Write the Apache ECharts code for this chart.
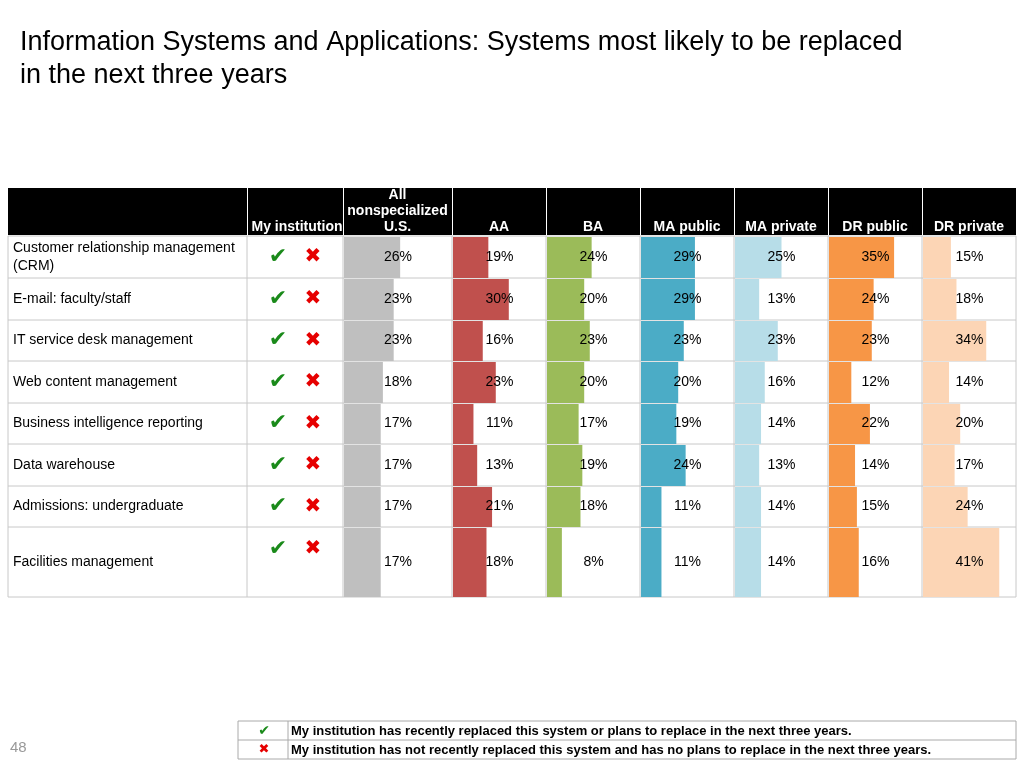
<!DOCTYPE html>
<html><head><meta charset="utf-8">
<script src="https://cdn.jsdelivr.net/npm/echarts@6/dist/echarts.min.js"></script>
<style>html,body{margin:0;padding:0;background:#fff}#c{width:1024px;height:768px}</style>
</head><body><div id="c"></div>
<script>
const rowLabels = ['Customer relationship management\n(CRM)','E-mail: faculty/staff','IT service desk management','Web content management','Business intelligence reporting','Data warehouse','Admissions: undergraduate','Facilities management'];
const groups = ['All\nnonspecialized\nU.S.','AA','BA','MA public','MA private','DR public','DR private'];
const allUS     = [26,23,23,18,17,17,17,17];
const aa        = [19,30,16,23,11,13,21,18];
const ba        = [24,20,23,20,17,19,18,8];
const maPublic  = [29,29,23,20,19,24,11,11];
const maPrivate = [25,13,23,16,14,13,14,14];
const drPublic  = [35,24,23,12,22,14,15,16];
const drPrivate = [15,18,34,14,20,17,24,41];
const seriesValues = [allUS,aa,ba,maPublic,maPrivate,drPublic,drPrivate];

// layout
const colors = ['#bfbfbf','#c0504d','#9bbb59','#4bacc6','#b7dde8','#f79646','#fcd5b5'];
const colEdges = [8,247,343,452,546,640,734,828,922,1016];
const rowEdges = [236,278,320,361,403,444,486,527,597];
const headTop = 188, top0 = rowEdges[0], bot = rowEdges[rowEdges.length-1];
const F = 'Liberation Sans, Arial, sans-serif';

const graphic = [];
graphic.push({type:'text',left:20,top:26,style:{text:'Information Systems and Applications: Systems most likely to be replaced\nin the next three years',font:'27px '+F,fill:'#000',lineHeight:33}});
// header
for (let c=0;c<colEdges.length-1;c++){
  graphic.push({type:'rect',shape:{x:colEdges[c]+(c?1:0),y:headTop,width:colEdges[c+1]-colEdges[c]-(c?1:0),height:top0-headTop-1},style:{fill:'#000'}});
}
graphic.push({type:'text',x:(colEdges[1]+colEdges[2])/2+2,y:234,style:{text:'My institution',font:'bold 14px '+F,fill:'#fff',align:'center',verticalAlign:'bottom'}});
groups.forEach((g,i)=>{
  graphic.push({type:'text',x:(colEdges[i+2]+colEdges[i+3])/2,y:235,style:{text:g,font:'bold 14px '+F,fill:'#fff',align:'center',verticalAlign:'bottom',lineHeight:16}});
});
// row lines
rowEdges.forEach(y=>graphic.push({type:'line',shape:{x1:8,y1:y,x2:1016,y2:y},style:{stroke:'#c8c8c8',lineWidth:1}}));
colEdges.forEach(x=>graphic.push({type:'line',shape:{x1:x,y1:top0,x2:x,y2:bot},style:{stroke:'#c8c8c8',lineWidth:1}}));
rowLabels.forEach((l,r)=>{
  const mid=(rowEdges[r]+rowEdges[r+1])/2;
  graphic.push({type:'text',x:13,y:mid,style:{text:l,font:'14px '+F,fill:'#000',verticalAlign:'middle',lineHeight:18}});
  const my = r===rowLabels.length-1 ? rowEdges[r]+22 : mid;
  graphic.push({type:'text',x:278,y:my,style:{text:'✔',font:'22px DejaVu Sans',fill:'#1a8a1a',align:'center',verticalAlign:'middle'}});
  graphic.push({type:'text',x:313,y:my,style:{text:'✖',font:'20px DejaVu Sans',fill:'#e60000',align:'center',verticalAlign:'middle'}});
});
// legend box
graphic.push({type:'rect',shape:{x:238,y:721,width:778,height:38},style:{fill:'none',stroke:'#aaa',lineWidth:1}});
graphic.push({type:'line',shape:{x1:238,y1:740,x2:1016,y2:740},style:{stroke:'#aaa'}});
graphic.push({type:'line',shape:{x1:288,y1:721,x2:288,y2:759},style:{stroke:'#aaa'}});
graphic.push({type:'text',x:264,y:731,style:{text:'✔',font:'14px DejaVu Sans',fill:'#1a8a1a',align:'center',verticalAlign:'middle'}});
graphic.push({type:'text',x:264,y:750,style:{text:'✖',font:'13px DejaVu Sans',fill:'#e60000',align:'center',verticalAlign:'middle'}});
graphic.push({type:'text',x:291,y:731,style:{text:'My institution has recently replaced this system or plans to replace in the next three years.',font:'bold 13px '+F,fill:'#000',verticalAlign:'middle'}});
graphic.push({type:'text',x:291,y:750,style:{text:'My institution has not recently replaced this system and has no plans to replace in the next three years.',font:'bold 13px '+F,fill:'#000',verticalAlign:'middle'}});
graphic.push({type:'text',x:10,y:748,style:{text:'48',font:'15px '+F,fill:'#999',verticalAlign:'middle'}});

const grid=[],xAxis=[],yAxis=[],series=[];
seriesValues.forEach((vals,i)=>{
  const l=colEdges[i+2]+1, w=colEdges[i+3]-colEdges[i+2]-1;
  grid.push({left:l,width:w,top:top0,height:bot-top0});
  xAxis.push({type:'value',gridIndex:i,min:0,max:50,show:false});
  yAxis.push({type:'value',gridIndex:i,min:top0,max:bot,inverse:true,show:false});
  series.push({type:'custom',xAxisIndex:i,yAxisIndex:i,data:vals.map((v,r)=>[v,r]),
    renderItem:(params,api)=>{
      const v=api.value(0), r=api.value(1);
      const p0=api.coord([0,rowEdges[r]+1]), p1=api.coord([v,rowEdges[r+1]]);
      const mid=api.coord([25,(rowEdges[r]+rowEdges[r+1])/2]);
      return {type:'group',children:[
        {type:'rect',shape:{x:p0[0],y:p0[1],width:p1[0]-p0[0],height:p1[1]-p0[1]},style:{fill:colors[i]}},
        {type:'text',x:mid[0],y:mid[1],style:{text:v+'%',font:'14px '+F,fill:'#000',align:'center',verticalAlign:'middle'}}
      ]};
    }});
});
const chart=echarts.init(document.getElementById('c'));
chart.setOption({animation:false,grid,xAxis,yAxis,series,graphic});
</script></body></html>
